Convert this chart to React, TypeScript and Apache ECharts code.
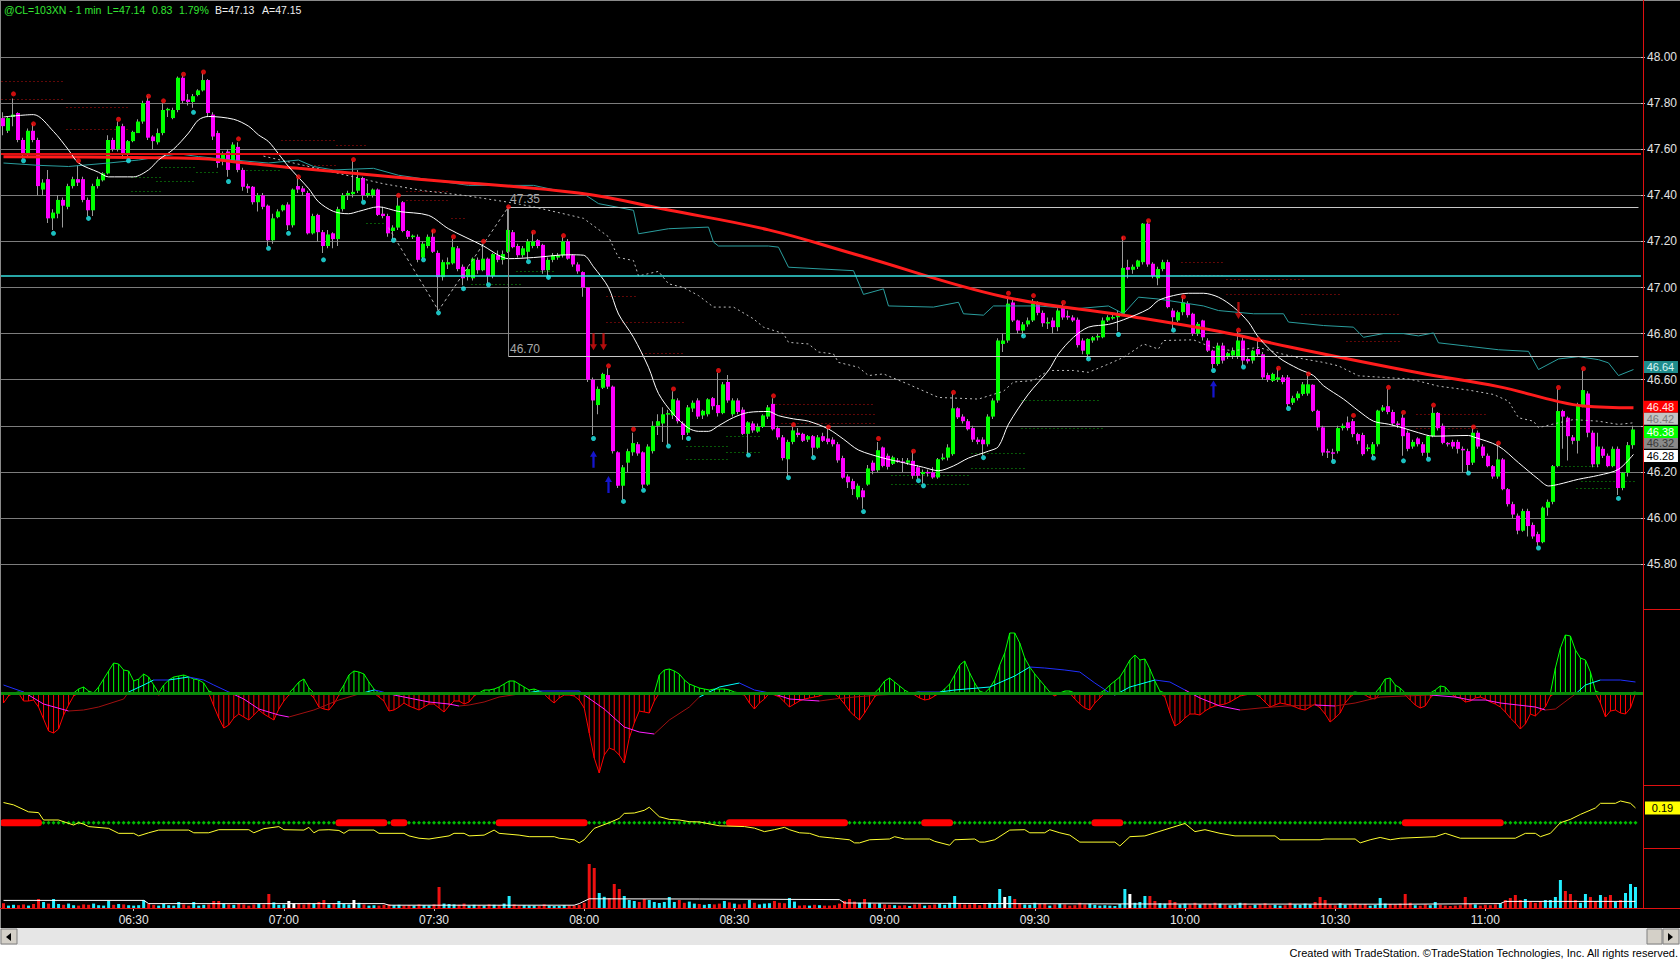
import React, { useEffect, useRef } from "react";
import * as echarts from "echarts";

const FONT = "Arial, 'Liberation Sans', Helvetica, sans-serif";

// ---------- categories: 1-minute bars from 06:04 (plus one empty slot) ----------
const SESSION_START = 6 * 60 + 4;
const SLOT_COUNT = 328;
const times: string[] = Array.from({ length: SLOT_COUNT }, (_, i) => {
  const t = SESSION_START + i;
  return String(Math.floor(t / 60)).padStart(2, "0") + ":" + String(t % 60).padStart(2, "0");
});

// ---------- price bars [open, high, low, close] ----------
const ohlc: number[][] = [
  [47.735,47.76,47.66,47.70],[47.68,47.74,47.67,47.735],[47.74,47.82,47.70,47.75],[47.757,47.76,47.63,47.64],[47.64,47.65,47.56,47.58],
  [47.58,47.69,47.57,47.68],[47.68,47.71,47.63,47.64],[47.64,47.65,47.40,47.44],[47.425,47.47,47.40,47.455],[47.47,47.51,47.28,47.30],
  [47.30,47.34,47.25,47.325],[47.32,47.40,47.30,47.38],[47.38,47.39,47.26,47.355],[47.35,47.45,47.34,47.44],[47.44,47.48,47.43,47.47],
  [47.47,47.53,47.44,47.455],[47.47,47.48,47.37,47.38],[47.38,47.39,47.31,47.335],[47.335,47.45,47.31,47.44],[47.44,47.48,47.43,47.47],
  [47.465,47.50,47.46,47.495],[47.495,47.66,47.49,47.64],[47.64,47.65,47.59,47.60],[47.60,47.72,47.59,47.70],[47.70,47.71,47.56,47.575],
  [47.575,47.64,47.56,47.635],[47.635,47.68,47.63,47.675],[47.67,47.73,47.67,47.72],[47.72,47.81,47.71,47.80],[47.81,47.83,47.64,47.65],
  [47.655,47.66,47.60,47.635],[47.63,47.69,47.62,47.67],[47.67,47.80,47.66,47.77],[47.77,47.78,47.74,47.775],[47.735,47.78,47.73,47.77],
  [47.77,47.915,47.76,47.91],[47.91,47.92,47.80,47.81],[47.815,47.84,47.79,47.805],[47.805,47.84,47.78,47.83],[47.835,47.86,47.83,47.855],
  [47.855,47.93,47.85,47.90],[47.90,47.905,47.74,47.757],[47.75,47.76,47.64,47.655],[47.67,47.68,47.52,47.54],[47.555,47.59,47.53,47.577],
  [47.59,47.60,47.48,47.51],[47.55,47.63,47.54,47.62],[47.61,47.63,47.50,47.51],[47.51,47.52,47.42,47.437],[47.44,47.45,47.41,47.43],
  [47.437,47.44,47.36,47.37],[47.37,47.41,47.33,47.40],[47.40,47.41,47.34,47.35],[47.355,47.36,47.18,47.205],[47.205,47.32,47.19,47.30],
  [47.305,47.34,47.30,47.33],[47.335,47.36,47.33,47.357],[47.36,47.37,47.25,47.27],[47.27,47.43,47.26,47.425],[47.44,47.475,47.41,47.425],
  [47.43,47.44,47.40,47.415],[47.41,47.42,47.23,47.235],[47.235,47.32,47.23,47.31],[47.315,47.32,47.20,47.24],[47.24,47.25,47.15,47.18],
  [47.18,47.25,47.17,47.23],[47.235,47.24,47.17,47.21],[47.21,47.35,47.18,47.34],[47.34,47.41,47.33,47.40],[47.40,47.42,47.38,47.41],
  [47.405,47.55,47.39,47.415],[47.42,47.51,47.41,47.475],[47.475,47.48,47.38,47.40],[47.40,47.45,47.39,47.41],[47.40,47.43,47.39,47.425],
  [47.425,47.43,47.31,47.315],[47.32,47.35,47.30,47.31],[47.31,47.32,47.22,47.235],[47.245,47.27,47.21,47.26],[47.26,47.39,47.25,47.355],
  [47.37,47.375,47.24,47.245],[47.245,47.25,47.21,47.22],[47.22,47.23,47.21,47.225],[47.22,47.23,47.11,47.12],[47.13,47.20,47.125,47.19],
  [47.18,47.23,47.17,47.22],[47.22,47.25,47.15,47.155],[47.15,47.16,46.90,47.045],[47.045,47.12,47.03,47.11],[47.10,47.13,47.08,47.11],
  [47.105,47.21,47.10,47.175],[47.17,47.18,47.07,47.08],[47.09,47.10,47.01,47.04],[47.045,47.09,47.03,47.08],[47.04,47.13,47.03,47.125],
  [47.12,47.13,47.06,47.075],[47.075,47.19,47.07,47.125],[47.125,47.13,47.02,47.05],[47.05,47.15,47.04,47.145],[47.14,47.16,47.11,47.12],
  [47.12,47.16,47.10,47.145],[47.155,47.35,47.15,47.25],[47.24,47.25,47.17,47.175],[47.18,47.19,47.13,47.14],[47.14,47.18,47.13,47.17],
  [47.155,47.21,47.12,47.20],[47.18,47.24,47.17,47.20],[47.205,47.21,47.17,47.18],[47.185,47.19,47.06,47.075],[47.075,47.13,47.05,47.12],
  [47.12,47.15,47.11,47.14],[47.13,47.15,47.12,47.14],[47.14,47.22,47.13,47.20],[47.20,47.21,47.12,47.125],[47.14,47.145,47.09,47.10],
  [47.10,47.11,47.06,47.07],[47.067,47.07,46.96,47.00],[47.00,47.00,46.59,46.60],[46.60,46.61,46.36,46.51],[46.49,46.57,46.45,46.56],
  [46.565,46.63,46.56,46.625],[46.62,46.65,46.56,46.57],[46.57,46.575,46.28,46.29],[46.285,46.29,46.13,46.14],[46.14,46.23,46.08,46.22],
  [46.24,46.30,46.20,46.29],[46.285,46.37,46.27,46.325],[46.32,46.33,46.27,46.28],[46.285,46.29,46.13,46.145],[46.145,46.32,46.14,46.31],
  [46.29,46.42,46.28,46.40],[46.40,46.45,46.36,46.42],[46.41,46.48,46.33,46.45],[46.45,46.47,46.32,46.455],[46.445,46.55,46.43,46.515],
  [46.51,46.52,46.41,46.42],[46.41,46.42,46.34,46.36],[46.37,46.49,46.36,46.48],[46.475,46.51,46.46,46.50],[46.51,46.52,46.43,46.44],
  [46.445,46.47,46.43,46.465],[46.45,46.52,46.44,46.515],[46.52,46.525,46.47,46.485],[46.49,46.63,46.44,46.455],[46.455,46.59,46.45,46.58],
  [46.59,46.62,46.50,46.51],[46.45,46.52,46.44,46.51],[46.51,46.52,46.45,46.46],[46.47,46.48,46.36,46.365],[46.365,46.42,46.28,46.415],
  [46.41,46.42,46.37,46.38],[46.375,46.41,46.37,46.395],[46.395,46.45,46.39,46.445],[46.44,46.49,46.43,46.48],[46.495,46.52,46.38,46.385],
  [46.39,46.40,46.34,46.35],[46.35,46.36,46.25,46.26],[46.255,46.34,46.18,46.33],[46.33,46.40,46.32,46.38],[46.37,46.39,46.35,46.36],
  [46.365,46.37,46.33,46.335],[46.34,46.36,46.33,46.355],[46.355,46.36,46.27,46.305],[46.305,46.36,46.30,46.35],[46.355,46.37,46.33,46.335],
  [46.345,46.39,46.32,46.33],[46.34,46.35,46.31,46.32],[46.32,46.33,46.24,46.25],[46.26,46.27,46.17,46.175],[46.18,46.19,46.13,46.155],
  [46.16,46.17,46.10,46.125],[46.09,46.15,46.08,46.14],[46.12,46.13,46.04,46.09],[46.145,46.23,46.14,46.215],[46.24,46.25,46.19,46.205],
  [46.207,46.33,46.20,46.294],[46.306,46.31,46.22,46.226],[46.27,46.28,46.21,46.222],[46.235,46.27,46.23,46.263],[46.25,46.26,46.24,46.245],
  [46.245,46.26,46.20,46.24],[46.24,46.26,46.23,46.25],[46.248,46.29,46.17,46.183],[46.22,46.23,46.17,46.183],[46.19,46.21,46.15,46.20],
  [46.20,46.21,46.18,46.195],[46.198,46.22,46.17,46.176],[46.176,46.26,46.17,46.255],[46.255,46.28,46.25,46.262],[46.262,46.32,46.25,46.306],
  [46.277,46.54,46.27,46.476],[46.476,46.48,46.43,46.437],[46.44,46.45,46.41,46.42],[46.42,46.43,46.38,46.385],[46.39,46.40,46.33,46.34],
  [46.34,46.35,46.32,46.33],[46.34,46.35,46.27,46.32],[46.32,46.45,46.31,46.44],[46.44,46.52,46.43,46.51],[46.51,46.78,46.50,46.77],
  [46.755,46.80,46.72,46.77],[46.77,46.96,46.76,46.93],[46.935,46.95,46.85,46.857],[46.857,46.86,46.80,46.813],[46.813,46.85,46.79,46.84],
  [46.84,46.87,46.83,46.857],[46.857,46.95,46.85,46.93],[46.93,46.94,46.88,46.89],[46.89,46.90,46.83,46.845],[46.845,46.87,46.82,46.85],
  [46.857,46.87,46.80,46.828],[46.828,46.91,46.81,46.90],[46.915,46.93,46.86,46.87],[46.877,46.90,46.86,46.87],[46.87,46.88,46.85,46.857],
  [46.86,46.87,46.74,46.75],[46.77,46.78,46.71,46.726],[46.71,46.78,46.69,46.777],[46.77,46.79,46.76,46.784],[46.784,46.80,46.77,46.79],
  [46.784,46.87,46.78,46.857],[46.857,46.88,46.85,46.871],[46.87,46.89,46.86,46.872],[46.871,46.90,46.81,46.886],[46.886,47.22,46.88,47.085],
  [47.088,47.12,47.04,47.077],[47.077,47.10,47.06,47.09],[47.09,47.12,47.08,47.117],[47.11,47.28,47.10,47.277],[47.277,47.29,47.09,47.10],
  [47.103,47.11,47.04,47.05],[47.04,47.09,47.01,47.08],[47.08,47.12,47.07,47.11],[47.11,47.12,46.91,46.915],[46.90,46.91,46.82,46.871],
  [46.857,46.90,46.85,46.893],[46.893,46.96,46.88,46.936],[46.93,46.94,46.87,46.88],[46.886,46.89,46.79,46.80],[46.80,46.85,46.79,46.842],
  [46.857,46.86,46.77,46.784],[46.77,46.78,46.72,46.726],[46.726,46.73,46.65,46.668],[46.668,46.76,46.66,46.748],[46.748,46.76,46.67,46.683],
  [46.70,46.72,46.69,46.715],[46.705,46.74,46.69,46.726],[46.70,46.81,46.69,46.77],[46.77,46.79,46.66,46.683],[46.69,46.70,46.67,46.68],
  [46.683,46.73,46.67,46.726],[46.733,46.77,46.70,46.71],[46.71,46.72,46.60,46.61],[46.62,46.63,46.59,46.60],[46.595,46.63,46.59,46.625],
  [46.60,46.65,46.59,46.61],[46.61,46.62,46.58,46.59],[46.61,46.62,46.48,46.494],[46.50,46.53,46.49,46.52],[46.52,46.55,46.51,46.54],
  [46.538,46.59,46.53,46.58],[46.54,46.62,46.53,46.58],[46.578,46.58,46.46,46.465],[46.465,46.47,46.38,46.393],[46.393,46.40,46.27,46.284],
  [46.29,46.30,46.26,46.285],[46.285,46.30,46.25,46.28],[46.29,46.40,46.28,46.39],[46.39,46.41,46.38,46.40],[46.415,46.44,46.38,46.39],
  [46.42,46.43,46.35,46.364],[46.364,46.37,46.32,46.335],[46.36,46.37,46.27,46.277],[46.30,46.32,46.29,46.306],[46.277,46.33,46.265,46.32],
  [46.32,46.47,46.31,46.466],[46.466,46.49,46.46,46.48],[46.485,46.56,46.45,46.46],[46.46,46.47,46.40,46.41],[46.41,46.42,46.39,46.405],
  [46.435,46.45,46.27,46.355],[46.37,46.38,46.29,46.30],[46.31,46.34,46.30,46.33],[46.345,46.35,46.31,46.32],[46.32,46.33,46.27,46.283],
  [46.283,46.36,46.26,46.355],[46.355,46.48,46.35,46.456],[46.456,46.46,46.38,46.39],[46.40,46.41,46.32,46.326],[46.326,46.33,46.31,46.32],
  [46.33,46.34,46.30,46.31],[46.33,46.34,46.28,46.30],[46.30,46.31,46.20,46.295],[46.29,46.30,46.20,46.23],[46.24,46.39,46.23,46.37],
  [46.37,46.38,46.30,46.31],[46.31,46.32,46.26,46.27],[46.27,46.28,46.22,46.225],[46.225,46.23,46.17,46.18],[46.18,46.32,46.17,46.254],
  [46.254,46.26,46.12,46.125],[46.125,46.13,46.05,46.06],[46.06,46.07,46.00,46.015],[46.01,46.02,45.93,45.945],[45.945,46.04,45.94,46.03],
  [46.03,46.04,45.92,45.965],[45.97,45.98,45.91,45.92],[45.93,45.94,45.88,45.895],[45.895,46.05,45.89,46.045],[46.045,46.08,46.01,46.07],
  [46.07,46.23,46.06,46.225],[46.225,46.56,46.22,46.464],[46.464,46.47,46.30,46.44],[46.435,46.44,46.25,46.355],[46.35,46.36,46.32,46.335],
  [46.335,46.50,46.28,46.49],[46.49,46.64,46.48,46.555],[46.54,46.55,46.35,46.37],[46.37,46.38,46.22,46.233],[46.233,46.37,46.22,46.31],
  [46.30,46.31,46.26,46.27],[46.27,46.28,46.22,46.225],[46.225,46.31,46.22,46.30],[46.30,46.31,46.10,46.13],[46.13,46.20,46.12,46.196],
  [46.196,46.33,46.18,46.316],[46.316,46.40,46.30,46.384],
];

// ---------- overlays on price panel: [barIndex, price] ----------
const redMA = [[0,47.567],[39,47.56],[46,47.546],[59,47.517],[83,47.47],[115,47.41],[133,47.336],[153,47.25],[171,47.14],[200,46.96],[224,46.88],[243,46.81],[257,46.743],[283,46.63],[299,46.57],[311,46.505],[316,46.486],[326,46.478]];
const whiteMA = [[0,47.74],[6,47.75],[10,47.677],[13,47.597],[15,47.54],[19,47.50],[21,47.48],[26,47.48],[29,47.51],[31,47.553],[34,47.60],[37,47.67],[39,47.727],[41,47.742],[46,47.73],[49,47.70],[51,47.662],[53,47.633],[55,47.58],[57,47.525],[61,47.43],[63,47.372],[66,47.33],[69,47.32],[71,47.33],[75,47.35],[79,47.33],[85,47.313],[89,47.255],[96,47.18],[99,47.14],[101,47.125],[106,47.13],[113,47.142],[116,47.14],[118,47.09],[121,47.00],[123,46.885],[126,46.784],[129,46.654],[131,46.54],[134,46.45],[137,46.39],[139,46.376],[141,46.376],[143,46.40],[146,46.436],[149,46.458],[153,46.462],[155,46.444],[158,46.43],[161,46.42],[165,46.386],[168,46.342],[171,46.295],[176,46.26],[180,46.24],[184,46.22],[187,46.205],[190,46.226],[193,46.26],[197,46.29],[199,46.31],[201,46.407],[205,46.538],[209,46.64],[211,46.712],[214,46.784],[217,46.828],[221,46.84],[224,46.86],[229,46.907],[231,46.944],[234,46.965],[237,46.975],[240,46.975],[243,46.958],[246,46.915],[249,46.85],[251,46.784],[255,46.697],[259,46.647],[262,46.618],[264,46.574],[268,46.516],[271,46.465],[274,46.42],[277,46.407],[280,46.39],[283,46.37],[286,46.355],[293,46.358],[294,46.352],[299,46.312],[303,46.24],[307,46.168],[309,46.139],[311,46.146],[315,46.168],[319,46.185],[323,46.211],[326,46.276]];
const tealLine = [[0,47.54],[7,47.53],[13,47.525],[21,47.54],[27,47.553],[35,47.58],[39,47.568],[46,47.553],[53,47.54],[59,47.553],[62,47.525],[66,47.51],[74,47.517],[79,47.487],[86,47.465],[93,47.443],[106,47.443],[111,47.42],[116,47.407],[119,47.364],[126,47.335],[127,47.233],[133,47.255],[141,47.262],[142,47.197],[143,47.18],[153,47.18],[155,47.175],[157,47.088],[170,47.073],[172,46.97],[176,46.994],[177,46.92],[186,46.915],[191,46.936],[192,46.886],[196,46.88],[198,46.92],[207,46.92],[214,46.907],[221,46.92],[224,46.886],[227,46.958],[231,46.95],[240,46.92],[243,46.90],[250,46.886],[256,46.886],[257,46.85],[264,46.835],[270,46.828],[272,46.784],[276,46.80],[280,46.80],[283,46.79],[286,46.803],[287,46.76],[293,46.745],[299,46.73],[305,46.723],[307,46.644],[311,46.69],[315,46.70],[319,46.687],[321,46.673],[323,46.618],[326,46.644]];
const grayDashed = [[52,47.57],[60,47.53],[68,47.49],[76,47.45],[84,47.42],[92,47.40],[101,47.37],[106,47.35],[116,47.30],[121,47.22],[123,47.13],[126,47.117],[127,47.05],[131,47.07],[133,47.016],[136,47.00],[139,46.965],[142,46.915],[146,46.915],[150,46.864],[152,46.828],[156,46.80],[157,46.762],[161,46.755],[163,46.72],[166,46.712],[167,46.675],[171,46.654],[173,46.618],[176,46.625],[181,46.58],[187,46.523],[195,46.516],[200,46.55],[202,46.59],[206,46.596],[209,46.64],[214,46.64],[217,46.632],[221,46.668],[224,46.697],[228,46.755],[231,46.733],[232,46.77],[238,46.773],[240,46.755],[243,46.733],[246,46.726],[251,46.74],[256,46.71],[260,46.69],[264,46.675],[267,46.66],[271,46.617],[276,46.61],[281,46.603],[283,46.594],[287,46.572],[293,46.555],[298,46.536],[301,46.507],[303,46.435],[306,46.42],[307,46.392],[311,46.413],[314,46.427],[319,46.42],[323,46.406],[326,46.413]];
const zigzag = [[77,47.26],[87,46.90],[101,47.35]];

const swingHighDots = [[2,47.84],[6,47.71],[15,47.55],[23,47.73],[29,47.83],[32,47.81],[36,47.925],[40,47.935],[47,47.645],[59,47.48],[70,47.555],[79,47.40],[86,47.245],[90,47.22],[96,47.20],[101,47.35],[106,47.24],[112,47.225],[121,46.66],[126,46.385],[134,46.56],[143,46.64],[154,46.53],[158,46.405],[165,46.395],[175,46.345],[182,46.29],[190,46.545],[201,46.975],[206,46.965],[212,46.935],[224,47.215],[229,47.29],[236,46.96],[247,46.815],[251,46.775],[255,46.65],[261,46.625],[270,46.445],[277,46.567],[280,46.458],[286,46.49],[294,46.395],[299,46.325],[311,46.566],[316,46.648]];
const swingLowDots = [[4,47.55],[10,47.235],[17,47.30],[25,47.55],[38,47.76],[45,47.46],[53,47.17],[57,47.235],[64,47.12],[72,47.37],[78,47.205],[84,47.12],[87,46.89],[92,46.995],[97,47.012],[105,47.112],[109,47.044],[118,46.345],[124,46.072],[128,46.12],[133,46.312],[137,46.345],[149,46.273],[157,46.175],[162,46.262],[172,46.028],[183,46.162],[184,46.14],[196,46.262],[204,46.79],[217,46.69],[223,46.796],[234,46.815],[242,46.64],[248,46.655],[257,46.475],[266,46.245],[274,46.26],[280,46.248],[285,46.255],[293,46.195],[307,45.87],[323,46.085]];
const downArrows = [[118,46.765],[120,46.765],[247,46.90]];
const upArrows = [[118,46.255],[121,46.145],[242,46.56]];

// dotted pivot-style levels [fromBar, toBar, price]
const redLevels = [[0,12,47.897],[0,12,47.816],[13,25,47.785],[13,25,47.686],[56,66,47.64],[67,72,47.618],[61,66,47.53],[81,89,47.42],[81,89,47.38],[90,92,47.30],[121,126,46.965],[121,136,46.85],[128,136,46.715],[154,174,46.494],[156,174,46.45],[156,174,46.41],[236,244,47.11],[236,244,47.055],[245,260,47.038],[245,267,46.972],[260,279,46.886],[269,279,46.77],[283,296,46.452],[283,295,46.39]];
const greenLevels = [[26,31,47.478],[26,31,47.42],[31,38,47.46],[32,38,47.524],[39,43,47.50],[49,55,47.51],[73,76,47.28],[94,103,47.016],[103,110,47.07],[137,145,46.313],[137,145,46.255],[145,151,46.357],[145,151,46.285],[178,193,46.187],[178,193,46.147],[194,204,46.284],[194,204,46.219],[204,219,46.51],[204,220,46.39],[312,319,46.225],[315,321,46.13],[316,326,46.16]];

const resistanceLine = 47.58;
const supportLine = 47.05;
const boxTop = 47.35;
const boxBottom = 46.70;
const boxStartBar = 101;
const lastBar = 327;
// last-value tags on the price scale
const tagTeal = 46.64, tagRedMA = 46.48, tagGray = 46.42, tagLast = 46.38, tagDark = 46.32, tagWhiteMA = 46.28;
const priceTicks = { min: 45.6, max: 48.2, step: 0.2 };
const hiddenPriceLabels = [46.4];

// ---------- MACD (x0.001) ----------
const macdHist = [
  -10,-3,0,1,-8,-8,-7,-14,-26,-38, -40,-36,-22,-12,-3,4,6,2,-1,6, 14,22,30,29,23,22,12,14,19,16,
  8,-2,8,13,16,17,18,16,14,13, 10,2,-13,-25,-35,-32,-25,-21,-24,-27, -22,-17,-21,-24,-27,-16,-8,-2,5,11,
  14,5,-5,-14,-16,-17,-11,-2,8,18, 22,21,19,11,4,-4,-8,-18,-17,-14, -10,-13,-15,-17,-14,-11,-11,-15,-19,-13,
  -8,-8,-11,-9,-3,0,3,3,4,6, 9,12,12,9,6,3,4,2,-1,-6, -10,-5,-2,-2,-3,-7,-15,-40,-65,-80,
  -62,-55,-57,-62,-70,-45,-30,-18,-19,-20, -8,18,23,24,22,19,13,9,7,5, 4,3,4,4,4,3,1,-1,-2,-10,
  -16,-10,-6,0,-2,-4,-9,-14,-11,-8, -6,-5,-4,-3,-1,-1,-1,-5,-11,-18, -23,-27,-20,-12,-4,5,12,15,11,7,
  3,0,-2,-5,-7,-6,-3,0,4,9, 18,28,32,20,10,2,-1,5,13,28, 40,60,60,50,35,26,19,13,7,1,
  -3,0,2,2,-6,-11,-15,-17,-10,-5, 3,8,12,16,24,33,38,33,34,24, 12,2,-4,-20,-33,-30,-25,-21,-21,-22,
  -18,-15,-13,-12,-11,-9,-6,-3,-2,-1, -1,-4,-9,-14,-12,-10,-11,-12,-14,-16, -17,-14,-11,-15,-21,-29,-25,-20,-10,-4,
  1,0,-2,-5,-6,6,14,15,8,5, -2,-7,-12,-15,-13,-5,3,7,6,0, -4,-5,-9,-8,-5,-4,-6,-9,-11,-14,
  -19,-25,-30,-36,-31,-21,-23,-18,-14,-3, 25,45,58,57,43,35,33,21,2,-10, -24,-18,-17,-20,-21,-15,1,
];
const macdSignal = [[0,8],[4,1],[8,-11],[13,-18],[16,-17],[19,-14],[24,-6],[25,1],[28,8],[30,13],[33,13],[37,16],[40,13],[42,8],[45,1],[48,-6],[51,-16],[55,-22],[57,-24],[62,-17],[67,-7],[71,-1],[74,3],[75,2],[78,-2],[82,-6],[85,-9],[89,-11],[91,-13],[93,-12],[96,-9],[99,-4],[103,-1],[107,2],[111,2],[115,2],[116,-2],[120,-16],[124,-34],[127,-39],[130,-41],[133,-27],[137,-14],[139,-4],[143,6],[147,10],[150,3],[154,-1],[157,-6],[163,-8],[166,-6],[170,-4],[175,-2],[179,-1],[183,1],[187,1],[190,3],[197,6],[202,17],[205,26],[208,25],[212,23],[215,21],[218,10],[221,0],[222,-2],[225,6],[230,13],[233,11],[236,3],[239,-5],[243,-13],[247,-17],[251,-15],[256,-13],[262,-12],[266,-13],[270,-10],[275,-4],[280,-3],[285,-2],[290,-4],[293,-7],[296,-7],[299,-10],[306,-14],[308,-17],[310,-16],[314,-1],[316,8],[319,13],[323,13],[326,11]];

// ---------- oscillator ----------
const oscillator = [[0,0.26],[2,0.23],[5,0.14],[7,0.13],[8,0.035],[11,0.035],[14,-0.03],[15,0],[16,-0.017],[17,-0.05],[21,-0.073],[23,-0.137],[26,-0.137],[27,-0.17],[29,-0.13],[31,-0.095],[37,-0.095],[38,-0.13],[41,-0.13],[43,-0.09],[49,-0.09],[50,-0.13],[52,-0.077],[55,-0.05],[56,-0.09],[60,-0.095],[61,-0.06],[62,-0.13],[63,-0.095],[65,-0.09],[67,-0.1],[68,-0.137],[69,-0.095],[74,-0.095],[75,-0.137],[80,-0.137],[81,-0.17],[83,-0.2],[85,-0.21],[86,-0.2],[89,-0.17],[90,-0.137],[92,-0.137],[93,-0.17],[96,-0.16],[98,-0.095],[99,-0.137],[103,-0.16],[105,-0.18],[110,-0.18],[111,-0.2],[114,-0.22],[115,-0.26],[116,-0.22],[118,-0.073],[121,0],[123,0.056],[124,0.12],[126,0.125],[128,0.16],[129,0.2],[131,0.077],[133,0.043],[135,0.035],[137,0.013],[139,0.01],[143,-0.04],[148,-0.05],[150,-0.07],[152,-0.115],[154,-0.09],[156,-0.06],[157,-0.09],[159,-0.13],[161,-0.137],[163,-0.18],[166,-0.2],[169,-0.22],[170,-0.26],[171,-0.26],[173,-0.22],[177,-0.21],[178,-0.18],[180,-0.21],[185,-0.21],[186,-0.24],[189,-0.29],[190,-0.22],[194,-0.21],[195,-0.25],[196,-0.25],[198,-0.22],[201,-0.095],[204,-0.09],[205,-0.13],[208,-0.13],[209,-0.09],[211,-0.13],[213,-0.16],[215,-0.25],[222,-0.25],[223,-0.3],[225,-0.18],[228,-0.17],[232,-0.09],[236,-0.01],[238,-0.115],[240,-0.09],[243,-0.137],[246,-0.17],[254,-0.17],[255,-0.22],[263,-0.22],[264,-0.21],[270,-0.21],[271,-0.26],[273,-0.22],[275,-0.19],[277,-0.22],[279,-0.2],[286,-0.18],[288,-0.137],[291,-0.2],[302,-0.2],[304,-0.137],[306,-0.137],[307,-0.18],[309,-0.137],[311,0],[313,0.043],[315,0.107],[318,0.19],[319,0.25],[322,0.25],[323,0.28],[325,0.25],[326,0.19]];
const oscLast = 0.19;
const squeezeRanges = [[0,7],[67,76],[78,80],[99,116],[145,168],[184,189],[218,223],[280,299]];

// ---------- volume ----------
const volumes = [
  120,60,80,70,90,60,100,225,150,110, 225,100,80,110,70,60,90,80,110,70, 60,175,80,100,90,70,60,70,200,110,
  80,60,100,70,60,150,90,60,150,60, 80,90,175,175,110,90,80,100,90,60, 90,110,90,350,140,80,90,175,120,100,
  90,130,120,150,200,90,110,175,100,90, 200,130,90,60,70,60,80,90,70,80, 60,70,60,90,70,60,90,525,110,100,
  90,80,110,60,80,70,60,90,80,70, 110,300,90,60,70,60,60,50,90,60, 50,50,70,60,60,80,130,1100,1000,375,
  280,250,600,475,300,200,175,150,225,200, 150,125,150,275,150,200,130,160,110,100, 80,100,90,110,175,140,110,90,110,200,
  130,90,110,120,175,130,120,250,160,60, 70,60,80,70,60,60,70,110,175,225, 160,130,225,130,110,120,90,80,70,60,
  70,50,90,100,60,70,90,110,80,130, 300,110,90,90,110,70,100,130,110,475, 275,300,225,120,90,80,130,100,110,60,
  90,110,90,60,70,130,90,110,80,60, 70,60,50,100,475,350,130,150,300,300, 175,120,110,200,150,90,110,90,130,90,
  110,100,130,110,90,70,80,130,120,60, 80,90,120,70,80,60,70,130,90,80, 110,90,150,275,200,90,70,120,80,90,
  110,90,100,60,80,250,110,100,90,110, 350,130,70,60,90,70,150,80,60,50, 60,70,275,100,90,60,80,70,90,120,
  200,250,325,200,225,150,130,160,200,200, 275,700,425,350,200,130,350,275,160,325, 275,325,150,200,375,600,525,
];
const volumeWhiteBars = [57, 58, 70, 200, 225];
const volumeAverage = [[0,190],[28,190],[29,110],[76,110],[77,70],[114,70],[115,110],[117,230],[139,225],[167,210],[168,125],[200,110],[230,100],[280,95],[299,110],[300,165],[326,165]];

// ---------- texts ----------
const titleParts = [
  { text: "@CL=103XN - 1 min", x: 4, color: "#33e633" },
  { text: "L=47.14", x: 107, color: "#33e633" },
  { text: "0.83", x: 152, color: "#33e633" },
  { text: "1.79%", x: 179, color: "#33e633" },
  { text: "B=47.13", x: 215, color: "#f0f0f0" },
  { text: "A=47.15", x: 262, color: "#f0f0f0" },
];
const footerText = "Created with TradeStation. \u00A9TradeStation Technologies, Inc. All rights reserved.";

// ---------------------------------------------------------------------------------

function buildOption(): any {
  const GRID_L = 1, GRID_R = 37;
  const grids = [
    { left: GRID_L, right: GRID_R, top: 10.9, height: 599.3 },
    { left: GRID_L, right: GRID_R, top: 609, height: 176 },
    { left: GRID_L, right: GRID_R, top: 785, height: 63 },
    { left: GRID_L, right: GRID_R, top: 848, height: 60 },
  ];
  const slotW = (1680 - GRID_L - GRID_R) / SLOT_COUNT;
  const lastSlotX = GRID_L + (lastBar + 0.5) * slotW;
  const tagOffsetX = 1645 + 17.5 - lastSlotX;

  const showTime = (i: number, v: string) => i < 320 && (v.endsWith(":00") || v.endsWith(":30"));
  const xAxes = grids.map((_, i) => ({
    type: "category",
    gridIndex: i,
    data: times,
    boundaryGap: true,
    show: i === 3,
    axisLine: { show: false },
    axisTick: i === 3 ? { show: true, interval: showTime, length: 3, alignWithLabel: true, lineStyle: { color: "#c0c0c0" } } : { show: false },
    axisLabel: i === 3 ? { show: true, interval: showTime, color: "#e6e6e6", fontSize: 12, fontFamily: FONT, margin: 6 } : { show: false },
    splitLine: { show: false },
  }));
  const yAxes = [
    {
      type: "value", gridIndex: 0, position: "right",
      min: priceTicks.min, max: priceTicks.max, interval: priceTicks.step,
      axisLine: { show: false },
      axisTick: { show: true, length: 4, lineStyle: { color: "#c8c8c8" } },
      axisLabel: {
        color: "#e2e2e2", fontSize: 12, fontFamily: FONT, margin: 6, showMinLabel: false, showMaxLabel: false,
        formatter: (v: number) => (hiddenPriceLabels.some((h) => Math.abs(h - v) < 1e-6) ? "" : v.toFixed(2)),
      },
      splitLine: { show: true, showMinLine: false, showMaxLine: false, lineStyle: { color: "#7c7c7c", width: 1 } },
    },
    { type: "value", gridIndex: 1, position: "right", min: -92, max: 84, show: false, splitLine: { show: false } },
    { type: "value", gridIndex: 2, position: "right", min: -0.326, max: 0.486, show: false, splitLine: { show: false } },
    { type: "value", gridIndex: 3, position: "right", min: 0, max: 1500, show: false, splitLine: { show: false } },
  ];

  const candleData = ohlc.map((d, i) => [i, d[0], d[1], d[2], d[3]]);

  const tag = (value: number, bg: string, fg: string, dy: number, text?: string) => ({
    coord: [lastBar, value],
    symbol: "rect",
    symbolSize: [35, 12],
    symbolOffset: [tagOffsetX, dy],
    itemStyle: { color: bg },
    label: {
      show: true, position: "inside", offset: [0, 0.5], formatter: text ?? value.toFixed(2),
      color: fg, fontSize: 11, fontFamily: FONT,
    },
  });

  const boxTag = (bar: number, value: number) => ({
    coord: [bar, value],
    symbol: "rect",
    symbolSize: 1,
    itemStyle: { color: "rgba(0,0,0,0)" },
    label: {
      show: true, position: "right", distance: 1, offset: [0, -8], formatter: value.toFixed(2),
      color: "#a8a8a8", fontSize: 12, fontFamily: FONT,
    },
  });

  const levelSeg = (list: number[][], color: string) => ({
    type: "custom", xAxisIndex: 0, yAxisIndex: 0, silent: true, z: 1,
    data: list, encode: { x: [0, 1], y: 2 },
    renderItem: (params: any, api: any) => {
      const a = api.coord([api.value(0), api.value(2)]);
      const b = api.coord([api.value(1), api.value(2)]);
      const y = Math.round(a[1]) + 0.5;
      return { type: "line", shape: { x1: a[0] - 2, y1: y, x2: b[0] + 2, y2: y }, style: { stroke: color, lineWidth: 1, lineDash: [1, 3] } };
    },
  });

  const inSqueeze = (i: number) => squeezeRanges.some((r) => i >= r[0] && i <= r[1]);
  const whiteSet = new Set(volumeWhiteBars);

  const arrowPath = "path://M4,0 L8,7 L5.3,7 L5.3,20 L2.7,20 L2.7,7 L0,7 Z";
  const noLabel = { show: false };

  const series: any[] = [
    levelSeg(redLevels, "#c01010"),
    levelSeg(greenLevels, "#10b010"),
    {
      name: "candles", type: "custom", xAxisIndex: 0, yAxisIndex: 0, silent: true, z: 2,
      data: candleData, encode: { x: 0, y: [1, 2, 3, 4] },
      renderItem: (params: any, api: any) => {
        const idx = api.value(0);
        const o = api.value(1), h = api.value(2), l = api.value(3), c = api.value(4);
        const pO = api.coord([idx, o]), pC = api.coord([idx, c]);
        const pH = api.coord([idx, h]), pL = api.coord([idx, l]);
        const r = Math.round(pO[0]);
        const top = Math.min(pO[1], pC[1]);
        const bh = Math.max(1.5, Math.abs(pO[1] - pC[1]));
        return {
          type: "group",
          children: [
            { type: "rect", shape: { x: r - 1, y: pH[1], width: 1, height: Math.max(1, pL[1] - pH[1]) }, style: { fill: "#9a9a9a" } },
            { type: "rect", shape: { x: r - 2, y: top, width: 4, height: bh }, style: { fill: c >= o ? "#00ff00" : "#ff00ff" } },
          ],
        };
      },
    },
    {
      name: "zigzag", type: "line", xAxisIndex: 0, yAxisIndex: 0, data: zigzag, symbol: "none", silent: true, z: 3,
      lineStyle: { color: "#b4b4b4", width: 1, type: [3, 3] },
      markLine: {
        silent: true, symbol: ["none", "none"], animation: false, precision: 2, label: noLabel,
        data: [
          { yAxis: resistanceLine, lineStyle: { color: "#e01010", width: 2, type: "solid" }, label: noLabel },
          { yAxis: supportLine, lineStyle: { color: "#35dede", width: 1.5, type: "solid" }, label: noLabel },
          [{ coord: [boxStartBar, boxTop], lineStyle: { color: "#c8c8c8", width: 1, type: "solid" }, label: noLabel }, { coord: [lastBar, boxTop], label: noLabel }],
          [{ coord: [boxStartBar, boxBottom], lineStyle: { color: "#c8c8c8", width: 1, type: "solid" }, label: noLabel }, { coord: [lastBar, boxBottom], label: noLabel }],
          [{ coord: [boxStartBar, boxTop], lineStyle: { color: "#8c8c8c", width: 1, type: "solid" }, label: noLabel }, { coord: [boxStartBar, boxBottom], label: noLabel }],
        ],
      },
      markPoint: {
        silent: true, animation: false,
        data: [
          boxTag(boxStartBar, boxTop),
          boxTag(boxStartBar, boxBottom),
          tag(tagTeal, "#1f8c8c", "#d8f4f4", -3.5),
          tag(tagRedMA, "#ff0000", "#ffe6e6", -0.5),
          tag(tagGray, "#c4c4c4", "#7a7a7a", -2.5),
          tag(tagDark, "#8a8a8a", "#383838", -1.5),
          tag(tagLast, "#00ff00", "#ffffff", 1.5),
          tag(tagWhiteMA, "#ffffff", "#000000", 2.5),
        ],
      },
    },
    { name: "teal", type: "line", xAxisIndex: 0, yAxisIndex: 0, data: tealLine, symbol: "none", silent: true, z: 3, lineStyle: { color: "#2a9e9e", width: 1 } },
    { name: "gray", type: "line", xAxisIndex: 0, yAxisIndex: 0, data: grayDashed, symbol: "none", silent: true, z: 3, lineStyle: { color: "#bdbdbd", width: 1, type: [2, 3] } },
    { name: "redMA", type: "line", xAxisIndex: 0, yAxisIndex: 0, data: redMA, symbol: "none", smooth: 0.4, silent: true, z: 4, lineStyle: { color: "#ff1c1c", width: 3 } },
    { name: "whiteMA", type: "line", xAxisIndex: 0, yAxisIndex: 0, data: whiteMA, symbol: "none", smooth: 0.3, silent: true, z: 4, lineStyle: { color: "#ffffff", width: 1 } },
    { name: "highs", type: "scatter", xAxisIndex: 0, yAxisIndex: 0, data: swingHighDots, symbol: "circle", symbolSize: 5, silent: true, z: 5, itemStyle: { color: "#ff1010" } },
    { name: "lows", type: "scatter", xAxisIndex: 0, yAxisIndex: 0, data: swingLowDots, symbol: "circle", symbolSize: 5, silent: true, z: 5, itemStyle: { color: "#22f0f0" } },
    { name: "down", type: "scatter", xAxisIndex: 0, yAxisIndex: 0, data: downArrows, symbol: arrowPath, symbolRotate: 180, symbolSize: [7, 17], silent: true, z: 5, itemStyle: { color: "#e01010" } },
    { name: "up", type: "scatter", xAxisIndex: 0, yAxisIndex: 0, data: upArrows, symbol: arrowPath, symbolSize: [7, 17], silent: true, z: 5, itemStyle: { color: "#1a1aff" } },

    // MACD
    {
      name: "hist", type: "bar", xAxisIndex: 1, yAxisIndex: 1, data: macdHist, barWidth: 1, silent: true, z: 2,
      itemStyle: { color: (p: any) => (p.value >= 0 ? "#00ff00" : "#ff0000") },
      markLine: { silent: true, symbol: ["none", "none"], label: noLabel, data: [{ yAxis: 0, lineStyle: { color: "#0a8a0a", width: 3, type: "solid" }, label: noLabel }] },
    },
    { name: "histUp", type: "line", xAxisIndex: 1, yAxisIndex: 1, data: macdHist.map((v) => Math.max(v, 0)), symbol: "none", silent: true, z: 3, lineStyle: { color: "#00ff00", width: 1 } },
    { name: "histDn", type: "line", xAxisIndex: 1, yAxisIndex: 1, data: macdHist.map((v) => Math.min(v, 0)), symbol: "none", silent: true, z: 3, lineStyle: { color: "#ff0000", width: 1 } },
    {
      name: "signal", type: "custom", xAxisIndex: 1, yAxisIndex: 1, data: macdSignal, encode: { x: 0, y: 1 }, silent: true, z: 4,
      renderItem: (params: any, api: any) => {
        const i = params.dataIndex;
        if (i === 0) return null;
        const p0 = macdSignal[i - 1], p1 = macdSignal[i];
        const a = api.coord(p0), b = api.coord(p1);
        const above = p0[1] + p1[1] >= 0;
        const rising = p1[1] > p0[1];
        const color = above ? (rising ? "#00ffff" : "#2030ff") : (rising ? "#a01010" : "#ff20ff");
        return { type: "line", shape: { x1: a[0], y1: a[1], x2: b[0], y2: b[1] }, style: { stroke: color, lineWidth: 1 } };
      },
    },

    // oscillator
    {
      name: "squeeze", type: "line", xAxisIndex: 2, yAxisIndex: 2, symbol: "none", silent: true, z: 2, connectNulls: false,
      data: ohlc.map((_, i) => (inSqueeze(i) ? 0 : null)),
      lineStyle: { color: "#ff0000", width: 7, cap: "round" },
    },
    {
      name: "squeezeOff", type: "scatter", xAxisIndex: 2, yAxisIndex: 2, symbol: "diamond", symbolSize: 4, silent: true, z: 2,
      data: ohlc.map((_, i) => [i, 0]).filter((d) => !inSqueeze(d[0])),
      itemStyle: { color: "#00ee00" },
    },
    {
      name: "osc", type: "line", xAxisIndex: 2, yAxisIndex: 2, data: oscillator, symbol: "none", silent: true, z: 3,
      lineStyle: { color: "#ffff30", width: 1 },
      markPoint: {
        silent: true, animation: false,
        data: [{ ...tag(oscLast, "#ffff00", "#000000", 0, oscLast.toFixed(2)), symbolSize: [35, 13] }],
      },
    },

    // volume
    {
      name: "vol", type: "bar", xAxisIndex: 3, yAxisIndex: 3, data: volumes, barWidth: 3, silent: true, z: 2,
      itemStyle: {
        color: (p: any) => {
          const i = p.dataIndex;
          if (whiteSet.has(i)) return "#ffffff";
          const d = ohlc[i];
          return d[3] >= d[0] ? "#22eeff" : "#ee1111";
        },
      },
    },
    { name: "volAvg", type: "line", xAxisIndex: 3, yAxisIndex: 3, data: volumeAverage, symbol: "none", silent: true, z: 3, lineStyle: { color: "#ffffff", width: 1 } },
  ];

  const graphic: any[] = [
    // borders
    { type: "line", z: 50, shape: { x1: 0.5, y1: 0, x2: 0.5, y2: 928 }, style: { stroke: "#8a8a8a", lineWidth: 1 } },
    { type: "line", z: 50, shape: { x1: 0, y1: 0.5, x2: 1680, y2: 0.5 }, style: { stroke: "#8a8a8a", lineWidth: 1 } },
    // right axis frame
    { type: "line", z: 50, shape: { x1: 1643.5, y1: 0, x2: 1643.5, y2: 909 }, style: { stroke: "#e01010", lineWidth: 1 } },
    { type: "line", z: 50, shape: { x1: 1643, y1: 609.5, x2: 1680, y2: 609.5 }, style: { stroke: "#e01010", lineWidth: 1 } },
    { type: "line", z: 50, shape: { x1: 1643, y1: 785.5, x2: 1680, y2: 785.5 }, style: { stroke: "#e01010", lineWidth: 1 } },
    { type: "line", z: 50, shape: { x1: 1643, y1: 848.5, x2: 1680, y2: 848.5 }, style: { stroke: "#e01010", lineWidth: 1 } },
    { type: "line", z: 50, shape: { x1: 0, y1: 908.5, x2: 1680, y2: 908.5 }, style: { stroke: "#e01010", lineWidth: 1 } },
    // scrollbar
    { type: "rect", z: 50, shape: { x: 0, y: 928, width: 1680, height: 17 }, style: { fill: "#e6e6e6" } },
    { type: "rect", z: 51, shape: { x: 1, y: 929, width: 16, height: 15 }, style: { fill: "#d4d0c8", stroke: "#808080", lineWidth: 1 } },
    { type: "polygon", z: 52, shape: { points: [[11, 933], [11, 941], [6, 937]] }, style: { fill: "#000" } },
    { type: "rect", z: 51, shape: { x: 1647, y: 929, width: 15, height: 15 }, style: { fill: "#d4d0c8", stroke: "#808080", lineWidth: 1 } },
    { type: "rect", z: 51, shape: { x: 1663, y: 929, width: 16, height: 15 }, style: { fill: "#d4d0c8", stroke: "#808080", lineWidth: 1 } },
    { type: "polygon", z: 52, shape: { points: [[1668, 933], [1668, 941], [1673, 937]] }, style: { fill: "#000" } },
    // footer
    { type: "rect", z: 50, shape: { x: 0, y: 945, width: 1680, height: 15 }, style: { fill: "#ffffff" } },
    { type: "text", z: 52, x: 1678, y: 953, style: { text: footerText, fill: "#000000", font: `11px ${FONT}`, align: "right", verticalAlign: "middle" } },
    // title
    ...titleParts.map((t) => ({ type: "text", z: 52, x: t.x, y: 10, style: { text: t.text, fill: t.color, font: `10.5px ${FONT}`, verticalAlign: "middle" } })),
  ];

  return {
    animation: false,
    backgroundColor: "#000000",
    grid: grids,
    xAxis: xAxes,
    yAxis: yAxes,
    series,
    graphic,
  };
}

export default function App() {
  const ref = useRef<HTMLDivElement>(null);
  useEffect(() => {
    if (!ref.current) return;
    const chart = echarts.init(ref.current, null, { renderer: "svg" });
    chart.setOption(buildOption());
    return () => chart.dispose();
  }, []);
  return <div ref={ref} style={{ position: "absolute", left: 0, top: 0, width: 1680, height: 960, background: "#000" }} />;
}
